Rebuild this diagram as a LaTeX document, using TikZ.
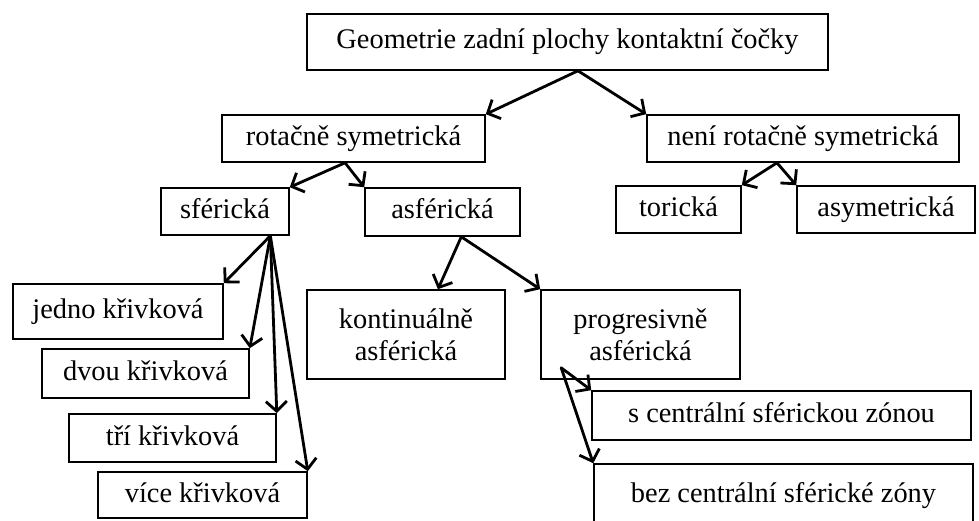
\documentclass[tikz,border=0pt]{standalone}
\usepackage{fontspec}
\setmainfont{Liberation Serif}
\usetikzlibrary{arrows.meta,calc}
\begin{document}
\begin{tikzpicture}[x=1pt,y=-1pt,
  box/.style={draw, line width=1.6pt, inner sep=0pt, align=center,
    font=\fontsize{28.4}{32}\selectfont},
  one/.style={text height=20pt, text depth=6pt},
  arr/.style={line width=2.8pt, line cap=round,
    -{Straight Barb[length=10pt,width=21pt,line width=2.8pt]}}]
\clip (0,0) rectangle (979,521);
\fill[white] (0,0) rectangle (979,521);
% nodes
\node[box, one, minimum width=521pt, minimum height=56pt] (top) at (567.5,42) {Geometrie zadní plochy kontaktní čočky};
\node[box, one, minimum width=263pt, minimum height=47pt] (rot) at (353.5,138.5) {rotačně symetrická};
\node[box, one, minimum width=312pt, minimum height=47pt] (neni) at (803,138.5) {není rotačně symetrická};
\node[box, one, minimum width=128pt, minimum height=47pt] (sfer) at (225,211.5) {sférická};
\node[box, one, minimum width=155pt, minimum height=48pt] (asfer) at (442.5,212) {asférická};
\node[box, one, minimum width=125pt, minimum height=47pt] (tor) at (678.5,209.5) {torická};
\node[box, one, minimum width=178pt, minimum height=47pt] (asym) at (886,209.5) {asymetrická};
\node[box, one, minimum width=210pt, minimum height=55pt] (jedno) at (118,311.5) {jedno křivková};
\node[box, one, minimum width=207pt, minimum height=49pt] (dvou) at (145.5,373.5) {dvou křivková};
\node[box, one, minimum width=207pt, minimum height=48pt] (tri) at (172.5,438) {tří křivková};
\node[box, one, minimum width=209pt, minimum height=46pt] (vice) at (202.5,495) {více křivková};
\node[box, minimum width=198pt, minimum height=89pt] (kont) at (406,334.5) {kontinuálně\\asférická};
\node[box, minimum width=199pt, minimum height=89pt] (prog) at (640.5,334.5) {progresivně\\asférická};
\node[box, one, minimum width=379pt, minimum height=49pt] (scen) at (781.5,415.5) {s centrální sférickou zónou};
\node[box, one, minimum width=379pt, minimum height=62pt] (bez) at (783.5,495) {bez centrální sférické zóny};
% origins
\coordinate (otop) at ($(top.south west)!0.52!(top.south east)$);
\coordinate (orot) at ($(rot.south west)!0.468!(rot.south east)$);
\coordinate (oneni) at ($(neni.south west)!0.417!(neni.south east)$);
\coordinate (osfer) at ($(sfer.south west)!0.85!(sfer.south east)$);
\coordinate (oasfer) at ($(asfer.south west)!0.62!(asfer.south east)$);
\coordinate (oprog) at ($(prog.south west)+(21,-12)$);
\coordinate (tkont) at ($(kont.north west)!0.66!(kont.north east)$);
% connectors
\draw[arr] (otop) -- (rot.north east);
\draw[arr] (otop) -- (neni.north west);
\draw[arr] (orot) -- (sfer.north east);
\draw[arr] (orot) -- (asfer.north west);
\draw[arr] (oneni) -- (tor.north east);
\draw[arr] (oneni) -- (asym.north west);
\draw[arr] (osfer) -- (jedno.north east);
\draw[arr] (osfer) -- (dvou.north east);
\draw[arr] (osfer) -- (tri.north east);
\draw[arr] (osfer) -- (vice.north east);
\draw[arr] (oasfer) -- (tkont);
\draw[arr] (oasfer) -- (prog.north west);
\draw[arr] (oprog) -- (scen.north west);
\draw[arr] (oprog) -- (bez.north west);
\end{tikzpicture}
\end{document}
